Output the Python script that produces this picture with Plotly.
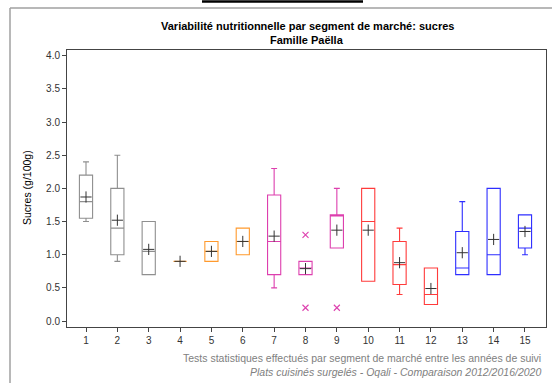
import plotly.graph_objects as go

segments = list(range(1, 16))
q1 = [1.55, 1.0, 0.7, 0.9, 0.9, 1.0, 0.7, 0.7, 1.1, 0.6, 0.55, 0.25, 0.7, 0.7, 1.1]
median = [1.8, 1.4, 1.05, 0.9, 1.05, 1.2, 1.2, 0.8, 1.6, 1.5, 0.85, 0.4, 0.8, 1.0, 1.4]
q3 = [2.2, 2.0, 1.5, 0.9, 1.2, 1.4, 1.9, 0.9, 1.6, 2.0, 1.2, 0.8, 1.35, 2.0, 1.6]
lower = [1.5, 0.9, 0.7, 0.9, 0.9, 1.0, 0.5, 0.7, 1.1, 0.6, 0.4, 0.25, 0.7, 0.7, 1.0]
upper = [2.4, 2.5, 1.5, 0.9, 1.2, 1.4, 2.3, 0.9, 2.0, 2.0, 1.4, 0.8, 1.8, 2.0, 1.6]
means = [1.87, 1.52, 1.08, 0.9, 1.05, 1.2, 1.28, 0.79, 1.37, 1.37, 0.88, 0.49, 1.03, 1.23, 1.35]
outlier_x = [8, 8, 9]
outlier_y = [1.3, 0.2, 0.2]
colors = ["#8f8f8f"] * 3 + ["#ff9a2e"] * 3 + ["#dd3fae"] * 3 + ["#ff3b3b"] * 3 + ["#2e2eff"] * 3
outlier_color = "#dd3fae"

fig = go.Figure()
for i, s in enumerate(segments):
    fig.add_trace(go.Box(
        x=[s], q1=[q1[i]], median=[median[i]], q3=[q3[i]],
        lowerfence=[lower[i]], upperfence=[upper[i]],
        width=0.42, whiskerwidth=0.45,
        line=dict(color=colors[i], width=1.1),
        fillcolor="rgba(255,255,255,0)",
        boxpoints=False, showlegend=False, hoverinfo="skip",
    ))

fig.add_trace(go.Scatter(
    x=segments, y=means, mode="markers",
    marker=dict(symbol="cross-thin", size=8, line=dict(color="#333333", width=1)),
    showlegend=False, hoverinfo="skip",
))
fig.add_trace(go.Scatter(
    x=outlier_x, y=outlier_y, mode="markers",
    marker=dict(symbol="x-thin", size=6, line=dict(color=outlier_color, width=1.1)),
    showlegend=False, hoverinfo="skip",
))

L, R, T, B = 67, 546, 50, 327
W, H = R - L, B - T
def px(x):
    return (x - L) / W
def py(y):
    return (B - y) / H

shapes = [
    dict(type="line", xref="paper", yref="paper", x0=px(10), x1=px(552), y0=py(8), y1=py(8),
         line=dict(color="#a0a0a0", width=1.5)),
    dict(type="line", xref="paper", yref="paper", x0=px(10), x1=px(10), y0=py(8), y1=py(383),
         line=dict(color="#a0a0a0", width=1.5)),
    dict(type="line", xref="paper", yref="paper", x0=px(202), x1=px(363), y0=py(1.5), y1=py(1.5),
         line=dict(color="#000000", width=2.5)),
]

annotations = [
    dict(text="<b>Variabilité nutritionnelle par segment de marché: sucres</b>", xref="paper", yref="paper",
         x=px(307), y=py(26), showarrow=False, font=dict(size=11, color="#000000", family="Liberation Sans, Arial"),
         xanchor="center", yanchor="middle"),
    dict(text="<b>Famille Paëlla</b>", xref="paper", yref="paper",
         x=px(307), y=py(40), showarrow=False, font=dict(size=11, color="#000000", family="Liberation Sans, Arial"),
         xanchor="center", yanchor="middle"),
    dict(text="Tests statistiques effectués par segment de marché entre les années de suivi", xref="paper", yref="paper",
         x=px(543), y=py(358), showarrow=False, font=dict(size=10.5, color="#808080", family="Liberation Sans, Arial"),
         xanchor="right", yanchor="middle"),
    dict(text="<i>Plats cuisinés surgelés - Oqali - Comparaison 2012/2016/2020</i>", xref="paper", yref="paper",
         x=px(543), y=py(372), showarrow=False, font=dict(size=10.5, color="#808080", family="Liberation Sans, Arial"),
         xanchor="right", yanchor="middle"),
    dict(text="Sucres (g/100g)", xref="paper", yref="paper", textangle=-90,
         x=px(27), y=py(188), showarrow=False, font=dict(size=10.5, color="#000000", family="Liberation Sans, Arial"),
         xanchor="center", yanchor="middle"),
]

fig.update_layout(
    width=552, height=383,
    margin=dict(l=L, r=552 - R, t=T, b=383 - B, pad=0),
    paper_bgcolor="white", plot_bgcolor="white",
    shapes=shapes, annotations=annotations,
    font=dict(family="Liberation Sans, Arial", size=10, color="#333333"),
    xaxis=dict(range=[0.394, 15.67], tickmode="array", tickvals=segments, ticktext=[str(s) for s in segments],
               showline=True, mirror=True, linecolor="#444444", linewidth=1, showgrid=False, zeroline=False,
               ticks="outside", ticklen=4, tickcolor="#444444", tickfont=dict(size=10, color="#333333")),
    yaxis=dict(range=[-0.09, 4.086], tickmode="array", tickvals=[0, 0.5, 1, 1.5, 2, 2.5, 3, 3.5, 4],
               tickformat=".1f",
               showline=True, mirror=True, linecolor="#444444", linewidth=1, showgrid=False, zeroline=False,
               ticks="outside", ticklen=4, tickcolor="#444444", tickfont=dict(size=10, color="#333333")),
)

fig.write_html("out.html", config={"displayModeBar": False},
               post_script="document.body.style.margin='0';document.body.style.overflow='hidden';"
                           "document.documentElement.style.margin='0';window.scrollTo(0,0);")
